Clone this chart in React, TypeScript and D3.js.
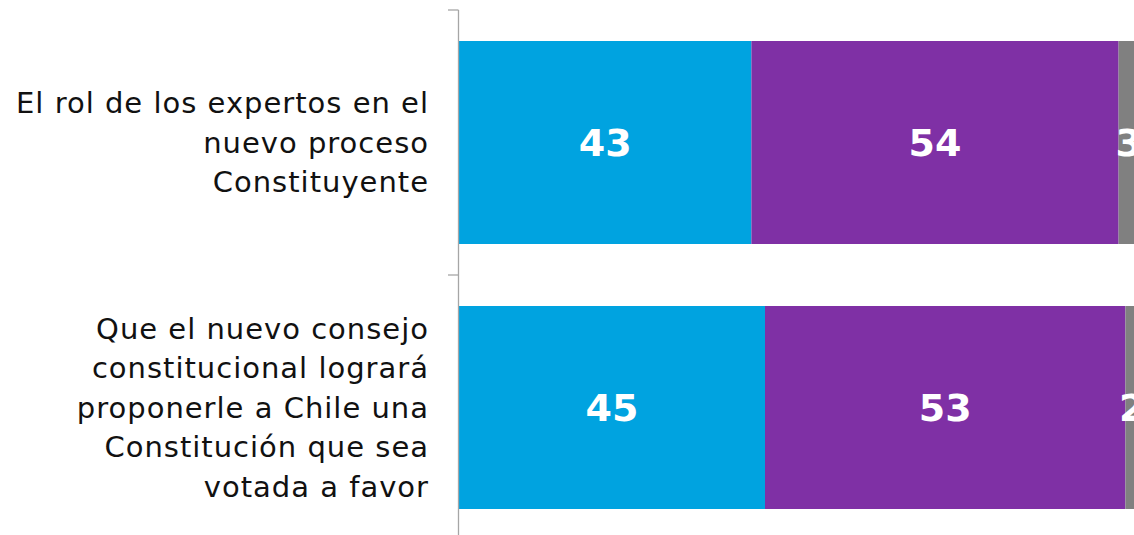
import * as React from 'react';
import {useEffect, useRef} from 'react';
import * as d3 from 'd3';

const width = 1134;
const height = 535;

const categories = [
  'El rol de los expertos en el nuevo proceso Constituyente',
  'Que el nuevo consejo constitucional logrará proponerle a Chile una Constitución que sea votada a favor',
];
const categoryLines = [
  ['El rol de los expertos en el', 'nuevo proceso', 'Constituyente'],
  ['Que el nuevo consejo', 'constitucional logrará', 'proponerle a Chile una', 'Constitución que sea', 'votada a favor'],
];
const seriesNames = ['Confía', 'No confía', 'NS/NR'];
const seriesColors = ['#00a3e0', '#7f30a5', '#808080'];
const confiaValues = [43, 45];
const noConfiaValues = [54, 53];
const nsnrValues = [3, 2];

const font = '"DejaVu Sans", sans-serif';

export default function App() {
  const ref = useRef<SVGSVGElement>(null);

  useEffect(() => {
    const svg = d3.select(ref.current);
    svg.selectAll('*').remove();

    const rows = categories.map((c, i) => ({
      category: c,
      [seriesNames[0]]: confiaValues[i],
      [seriesNames[1]]: noConfiaValues[i],
      [seriesNames[2]]: nsnrValues[i],
    }));

    const stack = d3.stack<any>().keys(seriesNames)(rows);

    const x = d3.scaleLinear().domain([0, 100]).range([459, 1139]);
    const y = d3.scaleBand<string>()
      .domain(categories)
      .range([10, 540])
      .paddingInner(0.234)
      .paddingOuter(0.117);

    const color = d3.scaleOrdinal<string, string>().domain(seriesNames).range(seriesColors);

    // bars
    const layer = svg.selectAll('g.layer').data(stack).join('g')
      .attr('class', 'layer')
      .attr('fill', d => color(d.key));

    layer.selectAll('rect').data(d => d).join('rect')
      .attr('x', d => x(d[0]))
      .attr('y', d => y(d.data.category)!)
      .attr('width', d => x(d[1]) - x(d[0]))
      .attr('height', y.bandwidth());

    layer.selectAll('text').data(d => d).join('text')
      .attr('x', d => (x(d[0]) + x(d[1])) / 2)
      .attr('y', d => y(d.data.category)! + y.bandwidth() / 2)
      .attr('text-anchor', 'middle')
      .attr('dominant-baseline', 'central')
      .attr('fill', '#fff')
      .style('font', `bold 38px ${font}`)
      .text(d => d[1] - d[0]);

    // axis line with ticks at band edges
    const gap = (y.step() - y.bandwidth()) / 2;
    const axis = svg.append('g').attr('stroke', '#a6a6a6').attr('stroke-width', 1.3);
    axis.append('line')
      .attr('x1', 458.5).attr('x2', 458.5)
      .attr('y1', y.range()[0]).attr('y2', y.range()[1]);
    axis.selectAll('line.tick')
      .data([...categories.map(c => y(c)! - gap), y.range()[1]])
      .join('line')
      .attr('class', 'tick')
      .attr('x1', 448).attr('x2', 458.5)
      .attr('y1', d => d).attr('y2', d => d);

    // category labels
    const lineHeight = 39.5;
    const label = svg.append('g').selectAll('text').data(categories).join('text')
      .attr('text-anchor', 'end')
      .attr('fill', '#111')
      .style('font', `29px ${font}`)
      .style('letter-spacing', '1px')
      .attr('y', c => y(c)! + y.bandwidth() / 2);

    label.selectAll('tspan')
      .data((c, i) => categoryLines[i].map((t, j, arr) => ({t, off: (j - (arr.length - 1) / 2) * lineHeight})))
      .join('tspan')
      .attr('x', 429)
      .attr('dy', (d, j) => j === 0 ? d.off : lineHeight)
      .attr('dominant-baseline', 'central')
      .text(d => d.t);
  }, []);

  return (
    <div style={{position: 'fixed', left: 0, top: 0, width, height, background: '#fff'}}>
      <svg ref={ref} width={width} height={height} style={{display: 'block', overflow: 'hidden'}} />
    </div>
  );
}
